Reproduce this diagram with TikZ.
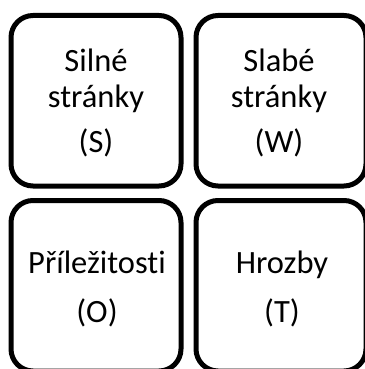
\documentclass[tikz,border=0pt]{standalone}
\usepackage{fontspec}
\setmainfont[Ligatures=NoCommon]{Carlito}
\begin{document}
\begin{tikzpicture}[x=1pt,y=-1pt,
  swotbox/.style={draw=black,line width=5pt,rounded corners=22pt},
  lbl/.style={anchor=base,inner sep=0pt,font=\fontsize{32.5}{36}\selectfont}]
\useasboundingbox (0,0) rectangle (364,369);
\draw[swotbox] (11,15.5) rectangle (181,186);
\draw[swotbox] (196,15.5) rectangle (366,186);
\draw[swotbox] (11,200.5) rectangle (181,371);
\draw[swotbox] (196,200.5) rectangle (366,371);
\node[lbl] (s1) at (96,71) {Silné};
\node[lbl] (s2) at (96,107) {stránky};
\node[lbl] (s3) at (96,152) {(S)};
\node[lbl] (w1) at (279,71) {Slabé};
\node[lbl] (w2) at (279,107) {stránky};
\node[lbl] (w3) at (279,152) {(W)};
\node[lbl] (o1) at (97,273) {Příležitosti};
\node[lbl] (o2) at (97,322) {(O)};
\node[lbl] (t1) at (282,273) {Hrozby};
\node[lbl] (t2) at (282,322) {(T)};
\end{tikzpicture}
\end{document}
